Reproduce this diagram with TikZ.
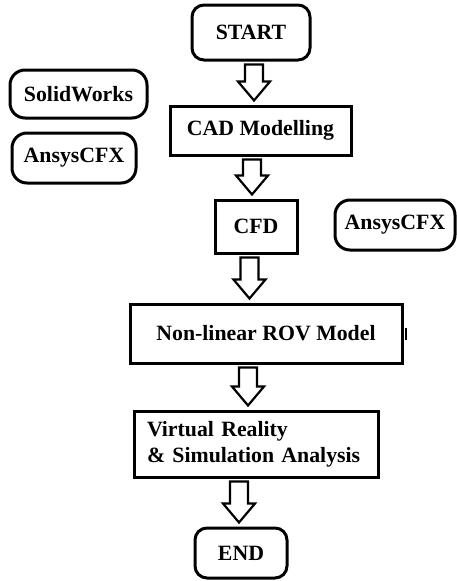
\documentclass[tikz,border=0pt]{standalone}
\usepackage{fontspec}
\setmainfont{Liberation Serif}
\usetikzlibrary{calc}
\begin{document}
\begin{tikzpicture}[x=1pt,y=-1pt,
  every node/.style={font=\fontsize{21.8}{26}\selectfont\bfseries, inner sep=0pt, line width=3pt, draw=black},
  roundbox/.style={rounded corners=12pt},
  squarebox/.style={},
  blockarrow/.style={draw=black, line width=2.2pt, fill=white, line join=miter}]
  \useasboundingbox (0,0) rectangle (457,581);

  % boxes of the main flow
  \node[roundbox, minimum width=118, minimum height=55] (start) at (251,32.5) {START};
  \node[squarebox, minimum width=181, minimum height=49] (cad) at (260.5,130.5) {CAD Modelling};
  \node[squarebox, minimum width=82, minimum height=53] (cfd) at (256,226.5) {CFD};
  \node[squarebox, minimum width=272, minimum height=59] (rov) at (266,333.5) {Non-linear ROV Model};
  \node[squarebox, minimum width=244, minimum height=66, text width=218, align=left] (vr) at (256,444)
    {Virtual Reality\\ \& Simulation Analysis};
  \node[roundbox, minimum width=92, minimum height=50] (end) at (241,553) {END};

  % software tools
  \node[roundbox, rounded corners=15pt, minimum width=137, minimum height=48] (sw) at (78.5,94) {SolidWorks};
  \node[roundbox, rounded corners=15pt, minimum width=124, minimum height=50] (cfxl) at (74,158) {AnsysCFX};
  \node[roundbox, rounded corners=15pt, minimum width=120, minimum height=50] (cfxr) at (395,225) {AnsysCFX};

  % hollow block arrows: #1 from node, #2 to node, #3 x of the arrow axis
  \newcommand{\flowarrow}[3]{%
    \path let \p1=(#1.south), \p2=(#2.north) in
      coordinate (t) at (#3pt,\y1-3pt) coordinate (h) at (#3pt,\y2+4pt);
    \draw[blockarrow] let \p1=(t), \p2=(h) in
      (\x1-9pt,\y1) -- (\x1+9pt,\y1) -- (\x1+9pt,\y2+19pt) -- (\x1+16pt,\y2+19pt)
      -- (\x2,\y2) -- (\x1-16pt,\y2+19pt) -- (\x1-9pt,\y2+19pt) -- cycle;}
  \flowarrow{start}{cad}{254}
  \flowarrow{cad}{cfd}{252}
  \flowarrow{cfd}{rov}{249.5}
  \flowarrow{rov}{vr}{248}
  \flowarrow{vr}{end}{239}

  % small stray tick beside the model box
  \draw[line width=1.5pt] (406,328) -- (406,340);
\end{tikzpicture}
\end{document}
